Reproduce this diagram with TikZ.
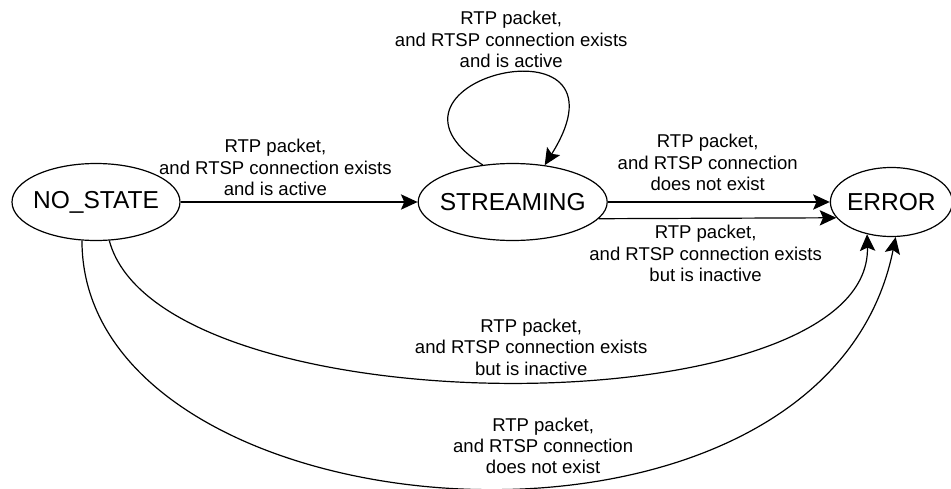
\documentclass[tikz,border=0pt]{standalone}
\usepackage{fontspec}
\setmainfont{Liberation Sans}
\usepackage{tikz}
\usetikzlibrary{positioning,shapes.geometric,arrows.meta}

\begin{document}
\begin{tikzpicture}[x=0.75pt, y=-0.75pt, >={Stealth[length=12.5pt, width=11.5pt, inset=2.5pt]}, statenode/.style={ellipse, draw=black, line width=0.9pt, inner xsep=-25pt, inner ysep=0pt, font=\fontsize{18.4}{22}\selectfont}, edgelabel/.style={align=center, inner sep=2pt}]

\tikzstyle{every node}=[font=\fontsize{13.9}{16.1}\selectfont]

\useasboundingbox (0,0) rectangle (951,489);

%Nodes
\node[statenode, minimum width=126pt, minimum height=57.75pt]      (nostate) at (96,202) {NO\_STATE};
\node[statenode, minimum width=141.75pt, minimum height=57.75pt]   (streaming) [right=177.75pt of nostate] {STREAMING};
\node[statenode, minimum width=91.5pt, minimum height=51.75pt]     (error) [right=166.5pt of streaming] {ERROR};

%Lines
\draw[->, line width=0.9pt] (nostate.east) -- (streaming.west) node[edgelabel, pos=0.4, above=2pt] {RTP packet,\\and RTSP connection exists\\and is active};
\draw[->, line width=0.9pt] (streaming.129) .. controls +(-132,-85) and +(97,-155) .. (streaming.49) node[edgelabel, pos=0.5, above=3pt, xshift=8pt] {RTP packet,\\and RTSP connection exists\\and is active};
\draw[->, line width=0.9pt] (streaming.east) -- (error.west) node[edgelabel, pos=0.45, above=6pt] {RTP packet,\\and RTSP connection\\does not exist};
\draw[->, line width=0.9pt] (streaming.-11) -- (error.196) node[edgelabel, pos=0.45, below=3pt] {RTP packet,\\and RTSP connection exists\\but is inactive};
\draw[->, line width=0.9pt] (nostate.-71) .. controls +(51,190) and +(5,195) .. (error.-127) node[edgelabel, pos=0.52, above=2pt] {RTP packet,\\and RTSP connection exists\\but is inactive};
\draw[->, line width=0.9pt] (nostate.-110) .. controls +(0,300) and +(-73,363) .. (error.-83) node[edgelabel, pos=0.57, above=6pt] {RTP packet,\\and RTSP connection\\does not exist};

\end{tikzpicture}
\end{document}
